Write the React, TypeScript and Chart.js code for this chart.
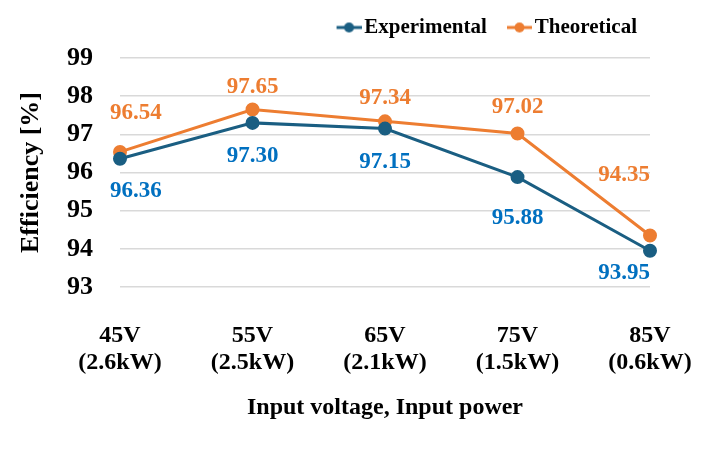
import { useEffect, useRef } from 'react';
import { Chart, registerables } from 'chart.js';
import type { Plugin } from 'chart.js';

Chart.register(...registerables);

// data
const voltages = ['45V', '55V', '65V', '75V', '85V'];
const powers = ['(2.6kW)', '(2.5kW)', '(2.1kW)', '(1.5kW)', '(0.6kW)'];
const experimental = [96.36, 97.3, 97.15, 95.88, 93.95];
const theoretical = [96.54, 97.65, 97.34, 97.02, 94.35];

const FONT = '"Liberation Serif", "Times New Roman", serif';
const COLORS = {
    expLine: '#1A5E82',
    expLabel: '#0070C0',
    theo: '#ED7D31',
    grid: '#D9D9D9',
};

// vertical shift of each value label from its point (px)
const expLabelDy = [32, 33, 33, 41, 22];
const theoLabelDy = [-39, -22, -23, -27, -60];

// little "line with dot" marker for the legend
function legendMarker(color: string) {
    const c = document.createElement('canvas');
    c.width = 40;
    c.height = 12;
    const ctx = c.getContext('2d')!;
    ctx.strokeStyle = color;
    ctx.lineWidth = 3;
    ctx.beginPath();
    ctx.moveTo(15, 6);
    ctx.lineTo(40, 6);
    ctx.stroke();
    ctx.fillStyle = color;
    ctx.beginPath();
    ctx.arc(27.5, 6, 5, 0, Math.PI * 2);
    ctx.fill();
    return c;
}

// push the plot area a bit further below the legend
const legendGap: Plugin<'line'> = {
    id: 'legendGap',
    beforeInit(chart) {
        const legend = (chart as any).legend;
        if (!legend) return;
        const fit = legend.fit;
        legend.fit = function () {
            fit.call(this);
            this.height += 10;
        };
    },
};

const valueLabels: Plugin<'line'> = {
    id: 'valueLabels',
    afterDatasetsDraw(chart) {
        const { ctx, chartArea } = chart;
        ctx.save();
        ctx.font = `bold 23px ${FONT}`;
        ctx.textBaseline = 'middle';
        ctx.textAlign = 'center';
        chart.data.datasets.forEach((ds, i) => {
            const meta = chart.getDatasetMeta(i);
            const dys = i === 0 ? expLabelDy : theoLabelDy;
            ctx.fillStyle = i === 0 ? COLORS.expLabel : COLORS.theo;
            meta.data.forEach((pt, j) => {
                const text = (ds.data[j] as number).toFixed(2);
                const w = ctx.measureText(text).width;
                let x = pt.x;
                x = Math.max(x, chartArea.left - 10 + w / 2);
                x = Math.min(x, chartArea.right - w / 2);
                ctx.fillText(text, x, pt.y + dys[j]);
            });
        });
        ctx.restore();
    },
};

const EfficiencyChart: React.FC = () => {
    const chartRef = useRef<HTMLCanvasElement | null>(null);

    useEffect(() => {
        const ctx = chartRef.current?.getContext('2d');
        if (!ctx) return;

        const markers = [legendMarker(COLORS.expLine), legendMarker(COLORS.theo)];

        const chart = new Chart(ctx, {
            type: 'line',
            data: {
                labels: voltages.map((v, i) => [v, powers[i]]),
                datasets: [
                    {
                        label: 'Experimental',
                        data: experimental,
                        borderColor: COLORS.expLine,
                        backgroundColor: COLORS.expLine,
                        borderWidth: 3,
                        pointRadius: 5.5,
                        pointHoverRadius: 5.5,
                    },
                    {
                        label: 'Theoretical',
                        data: theoretical,
                        borderColor: COLORS.theo,
                        backgroundColor: COLORS.theo,
                        borderWidth: 3,
                        pointRadius: 5.5,
                        pointHoverRadius: 5.5,
                    },
                ],
            },
            options: {
                responsive: true,
                maintainAspectRatio: false,
                animation: false,
                layout: { padding: { left: 0, right: 72, top: 4, bottom: 31 } },
                plugins: {
                    tooltip: { enabled: false },
                    legend: {
                        position: 'top',
                        align: 'end',
                        labels: {
                            usePointStyle: true,
                            pointStyleWidth: 24.5,
                            padding: 13,
                            color: '#000',
                            font: { family: FONT, size: 21, weight: 'bold' },
                            generateLabels: (c) =>
                                c.data.datasets.map((ds, i) => ({
                                    text: ds.label as string,
                                    datasetIndex: i,
                                    pointStyle: markers[i],
                                    fillStyle: 'transparent',
                                    strokeStyle: 'transparent',
                                    lineWidth: 0,
                                    fontColor: '#000',
                                    hidden: false,
                                })),
                        },
                    },
                },
                scales: {
                    x: {
                        offset: false,
                        grid: { display: false },
                        border: { display: false },
                        ticks: {
                            color: '#000',
                            padding: 28,
                            maxRotation: 0,
                            font: { family: FONT, size: 24, weight: 'bold', lineHeight: 1.1 },
                        },
                        title: {
                            display: true,
                            text: 'Input voltage, Input power',
                            color: '#000',
                            padding: { top: 0, bottom: 0 },
                            font: { family: FONT, size: 24, weight: 'bold' },
                        },
                        afterFit: (scale) => {
                            scale.height = 135;
                        },
                    },
                    y: {
                        min: 93,
                        max: 99,
                        grid: { color: COLORS.grid, lineWidth: 1.5, drawTicks: false },
                        border: { display: false },
                        ticks: {
                            stepSize: 1,
                            color: '#000',
                            padding: 27,
                            font: { family: FONT, size: 26, weight: 'bold' },
                        },
                        title: {
                            display: true,
                            text: 'Efficiency [%]',
                            color: '#000',
                            padding: { top: 16, bottom: 0 },
                            font: { family: FONT, size: 26, weight: 'bold' },
                        },
                        afterFit: (scale) => {
                            scale.width = 120;
                        },
                    },
                },
            },
            plugins: [legendGap, valueLabels],
        });

        return () => {
            chart.destroy();
        };
    }, []);

    return (
        <div style={{ position: 'fixed', left: 0, top: 0, width: 722, height: 453, background: '#fff' }}>
            <canvas ref={chartRef}></canvas>
        </div>
    );
};

export default function App() {
    return <EfficiencyChart />;
}
